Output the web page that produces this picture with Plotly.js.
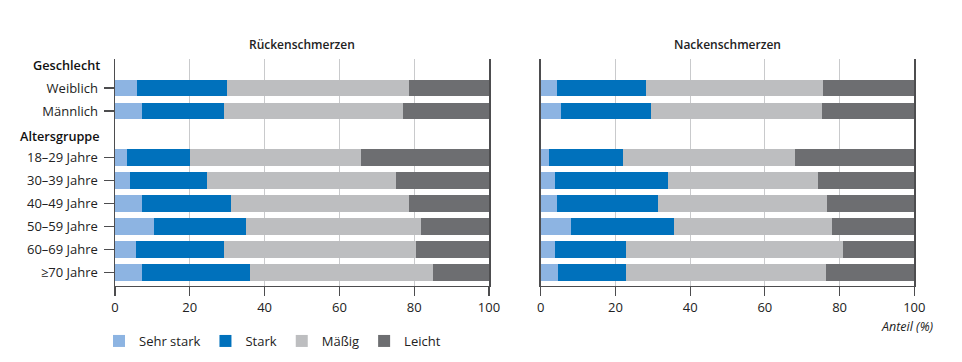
<!DOCTYPE html>
<html>
<head>
<meta charset="utf-8">
<script src="https://cdn.plot.ly/plotly-3.0.1.min.js"></script>
<style>html,body{margin:0;padding:0;background:#fff;}#chart{width:962px;height:362px;}</style>
</head>
<body>
<div id="chart"></div>
<script>
// Data (percent shares)
const rowLabels = ["Weiblich", "Männlich", "18–29 Jahre", "30–39 Jahre", "40–49 Jahre", "50–59 Jahre", "60–69 Jahre", "≥70 Jahre"];
const groupHeaders = ["Geschlecht", "Altersgruppe"];
const axisOrder = ["Geschlecht", "Weiblich", "Männlich", "Altersgruppe", "18–29 Jahre", "30–39 Jahre", "40–49 Jahre", "50–59 Jahre", "60–69 Jahre", "≥70 Jahre"];
const seriesNames = ["Sehr stark", "Stark", "Mäßig", "Leicht"];
const seriesColors = ["#8db4e2", "#0071bc", "#bdbec0", "#6d6e71"];
const panelTitles = ["Rückenschmerzen", "Nackenschmerzen"];
const xTicks = [0, 20, 40, 60, 80, 100];

// Rückenschmerzen
const rueckenSehrStark = [6.0, 7.2, 3.2, 4.0, 7.3, 10.4, 5.7, 7.3];
const rueckenStark     = [24.0, 21.9, 16.9, 20.5, 23.8, 24.7, 23.5, 28.7];
const rueckenMaessig   = [48.7, 48.0, 45.6, 50.6, 47.5, 46.6, 51.4, 49.0];
const rueckenLeicht    = [21.3, 22.9, 34.3, 24.9, 21.4, 18.3, 19.4, 15.0];

// Nackenschmerzen
const nackenSehrStark = [4.3, 5.3, 2.3, 3.8, 4.4, 8.0, 3.7, 4.6];
const nackenStark     = [23.8, 24.1, 19.7, 30.4, 26.9, 27.6, 19.2, 18.1];
const nackenMaessig   = [47.5, 45.8, 46.1, 40.0, 45.3, 42.5, 57.9, 53.6];
const nackenLeicht    = [24.4, 24.8, 31.9, 25.8, 23.4, 21.9, 19.2, 23.7];

const panels = [
  {xa: "x", ya: "y", series: [rueckenSehrStark, rueckenStark, rueckenMaessig, rueckenLeicht], legend: true},
  {xa: "x2", ya: "y2", series: [nackenSehrStark, nackenStark, nackenMaessig, nackenLeicht], legend: false}
];

const traces = [];
panels.forEach(p => {
  p.series.forEach((vals, i) => {
    traces.push({
      type: "bar", orientation: "h",
      x: vals, y: rowLabels,
      name: seriesNames[i],
      marker: {color: seriesColors[i], line: {width: 0}},
      xaxis: p.xa, yaxis: p.ya,
      showlegend: p.legend,
      hoverinfo: "x+y+name"
    });
  });
});

const FONT = "'Open Sans', 'Noto Sans', sans-serif";
const W = 962, H = 362;
const yRange = [9.56, -0.24];

function xAxis(domain, anchor) {
  return {
    domain: domain, anchor: anchor, range: [0, 100], fixedrange: true,
    tickmode: "array", tickvals: xTicks,
    showgrid: true, gridcolor: "#c9cacc", gridwidth: 1.2,
    zeroline: false,
    showline: true, linecolor: "#4d4d4f", linewidth: 1.5,
    ticks: "outside", ticklen: 9, tickwidth: 1.2, tickcolor: "#4d4d4f",
    tickfont: {family: FONT, size: 13, color: "#222"},
    automargin: false
  };
}
function yAxis(anchor, labels) {
  return {
    domain: [(H - 285.7) / H, (H - 59.3) / H], anchor: anchor,
    type: "category", categoryorder: "array", categoryarray: axisOrder,
    range: yRange, fixedrange: true,
    tickmode: "array", tickvals: rowLabels, ticktext: rowLabels,
    showticklabels: labels,
    ticks: labels ? "outside" : "", ticklen: 10, tickwidth: 1.2, tickcolor: "#4d4d4f",
    ticklabelstandoff: 3,
    tickfont: {family: FONT, size: 13, color: "#222"},
    showgrid: false, zeroline: false,
    showline: true, linecolor: "#4d4d4f", linewidth: 1.5, mirror: true,
    automargin: false
  };
}

const annotations = [
  {text: panelTitles[0], xref: "x", yref: "paper", x: 50, y: (H - 45) / H, showarrow: false,
   font: {family: FONT, size: 12, color: "#222", weight: 600}, xanchor: "center", yanchor: "middle"},
  {text: panelTitles[1], xref: "x2", yref: "paper", x: 50, y: (H - 45) / H, showarrow: false,
   font: {family: FONT, size: 12, color: "#222", weight: 600}, xanchor: "center", yanchor: "middle"},
  {text: "<i>Anteil (%)</i>", xref: "paper", yref: "paper", x: 936 / W, y: (H - 326.5) / H, showarrow: false,
   font: {family: FONT, size: 12.5, color: "#222"}, xanchor: "right", yanchor: "middle"}
];
groupHeaders.forEach(h => {
  annotations.push({text: h, xref: "paper", yref: "y", x: 102 / W, y: h, showarrow: false,
    font: {family: FONT, size: 12.7, color: "#111", weight: 600}, xanchor: "right", yanchor: "middle",
    yshift: h === "Altersgruppe" ? -2 : 0});
});

const layout = {
  width: W, height: H,
  margin: {l: 0, r: 0, t: 0, b: 0},
  paper_bgcolor: "#fff", plot_bgcolor: "#fff",
  barmode: "stack", bargap: 0.28,
  font: {family: FONT, size: 13, color: "#222"},
  xaxis: xAxis([115 / W, 489 / W], "y"),
  yaxis: yAxis("x", true),
  xaxis2: xAxis([540.7 / W, 914.3 / W], "y2"),
  yaxis2: yAxis("x2", false),
  showlegend: true,
  legend: {orientation: "h", x: 99 / W, y: (H - 341) / H, xanchor: "left", yanchor: "middle",
    font: {family: FONT, size: 13, color: "#222"}, itemwidth: 30, traceorder: "normal",
    bgcolor: "rgba(0,0,0,0)", borderwidth: 0},
  annotations: annotations
};

Plotly.newPlot("chart", traces, layout, {staticPlot: true, displayModeBar: false});
</script>
</body>
</html>
